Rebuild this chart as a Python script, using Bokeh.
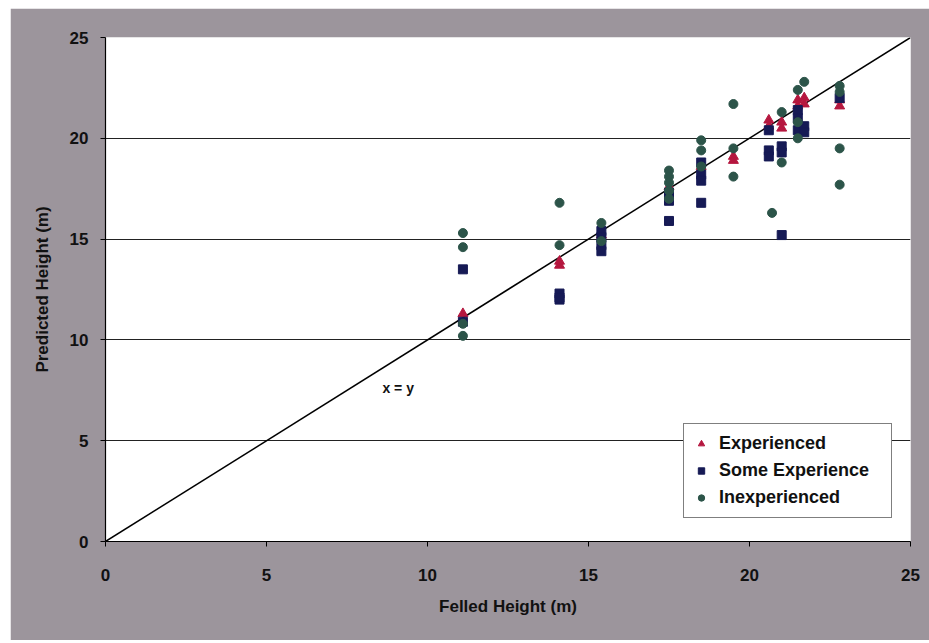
from bokeh.plotting import figure
from bokeh.models import FixedTicker, Legend, LegendItem, Label
from bokeh.embed import file_html
from bokeh.resources import INLINE

# ---- data ----
exp_x = [11.1, 14.1, 14.1, 15.4, 17.5, 18.5, 19.5, 19.5, 20.6, 20.6, 21.0, 21.0, 21.5, 21.5, 21.7, 21.7, 22.8, 22.8]
exp_y = [11.3, 13.7, 13.9, 15.2, 17.6, 18.6, 19.1, 18.9, 20.9, 20.6, 20.5, 20.8, 21.9, 21.6, 22.0, 21.7, 21.6, 21.9]

some_x = [11.1, 11.1, 14.1, 14.1, 14.1, 15.4, 15.4, 15.4, 15.4, 17.5, 17.5, 17.5, 18.5, 18.5, 18.5, 18.5,
          20.6, 20.6, 20.6, 21.0, 21.0, 21.0, 21.5, 21.5, 21.5, 21.7, 21.7, 22.8]
some_y = [13.5, 10.9, 12.3, 12.0, 12.1, 15.4, 15.1, 14.7, 14.4, 16.9, 15.9, 17.3, 18.2, 17.9, 16.8, 18.8,
          19.4, 19.1, 20.4, 19.6, 19.3, 15.2, 21.4, 21.0, 20.4, 20.6, 20.3, 22.0]

inex_x = [11.1, 11.1, 11.1, 11.1, 14.1, 14.1, 15.4, 15.4, 17.5, 17.5, 17.5, 17.5, 17.5, 18.5, 18.5, 18.5,
          19.5, 19.5, 19.5, 20.7, 21.0, 21.0, 21.5, 21.5, 21.5, 21.7, 22.8, 22.8, 22.8, 22.8]
inex_y = [15.3, 14.6, 10.2, 10.8, 16.8, 14.7, 15.8, 14.9, 18.4, 18.1, 17.8, 17.4, 17.0, 19.9, 19.4, 18.6,
          21.7, 19.5, 18.1, 16.3, 21.3, 18.8, 22.4, 20.8, 20.0, 22.8, 22.6, 22.3, 19.5, 17.7]

line_x = [0, 25]
line_y = [0, 25]

x_ticks = [0, 5, 10, 15, 20, 25]
y_ticks = [0, 5, 10, 15, 20, 25]

FONT = "Liberation Sans"
BG = "#9c959c"

p = figure(width=919, height=632, output_backend="svg", toolbar_location=None,
           x_range=(0, 25), y_range=(0, 25),
           min_border_left=95, min_border_right=19, min_border_top=29, min_border_bottom=99)
p.margin = (8, 0, 0, 10)
p.border_fill_color = BG
p.background_fill_color = "white"
p.outline_line_color = None

p.xgrid.visible = False
p.ygrid.ticker = FixedTicker(ticks=[5, 10, 15, 20])
p.ygrid.grid_line_color = "#222222"
p.ygrid.grid_line_width = 1

for ax, ticks in ((p.xaxis[0], x_ticks), (p.yaxis[0], y_ticks)):
    ax.ticker = FixedTicker(ticks=ticks)
    ax.minor_tick_line_color = None
    ax.major_tick_out = 5
    ax.major_tick_in = 0
    ax.axis_line_color = "black"
    ax.axis_line_width = 1.2
    ax.major_tick_line_color = "black"
    ax.major_label_text_font = FONT
    ax.major_label_text_font_style = "bold"
    ax.major_label_text_font_size = "17px"
    ax.major_label_text_color = "#111111"
    ax.axis_label_text_font = FONT
    ax.axis_label_text_font_style = "bold"
    ax.axis_label_text_font_size = "17px"
    ax.axis_label_text_color = "#111111"

p.xaxis.axis_label = "Felled Height (m)"
p.yaxis.axis_label = "Predicted Height (m)"
p.xaxis.major_label_standoff = 22
p.xaxis.axis_label_standoff = 13
p.yaxis.major_label_standoff = 12
p.yaxis.axis_label_standoff = 15

p.line(line_x, line_y, line_color="black", line_width=1.5)

r_exp = p.scatter(exp_x, exp_y, marker="triangle", size=10, fill_color="#b5173f", line_color="#b5173f")
r_some = p.scatter(some_x, some_y, marker="square", size=9, fill_color="#161a55", line_color="#161a55")
r_inex = p.scatter(inex_x, inex_y, marker="circle", size=9, fill_color="#2c5449", line_color="#2c5449")

p.add_layout(Label(x=8.6, y=7.6, text="x = y", text_font=FONT, text_font_style="bold",
                   text_font_size="14px", text_color="#111111", text_baseline="middle"))

legend = Legend(items=[LegendItem(label="Experienced", renderers=[r_exp]),
                       LegendItem(label="Some Experience", renderers=[r_some]),
                       LegendItem(label="Inexperienced", renderers=[r_inex])],
                location=(578, 23))
legend.label_text_font = FONT
legend.label_text_font_style = "bold"
legend.label_text_font_size = "18px"
legend.label_text_color = "#111111"
legend.border_line_color = "black"
legend.border_line_width = 1
legend.background_fill_color = "white"
legend.background_fill_alpha = 1
legend.glyph_width = 16
legend.glyph_height = 21
legend.label_height = 21
legend.label_width = 163
legend.label_standoff = 10
legend.spacing = 6
legend.padding = 9
legend.margin = 0
p.add_layout(legend, "center")

open("out.html", "w").write(file_html(p, INLINE))
